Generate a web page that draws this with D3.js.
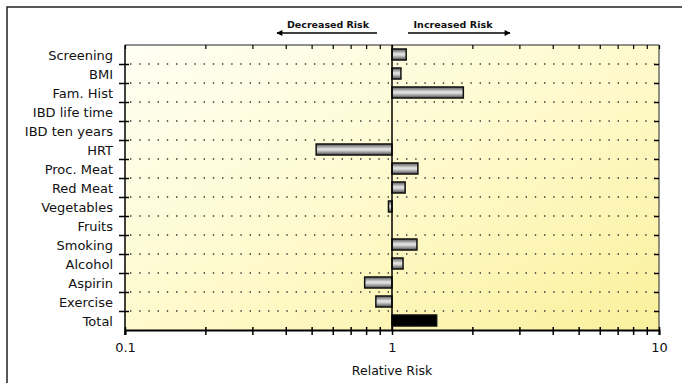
<!DOCTYPE html>
<html>
<head>
<meta charset="utf-8">
<script src="https://cdn.jsdelivr.net/npm/d3@7"></script>
<style>
  body { margin: 0; background: #fff; }
  svg text { font-family: "DejaVu Sans", Verdana, sans-serif; fill: #111; }
</style>
</head>
<body>
<div id="chart"></div>
<script>
// Risk factors, top to bottom
const categories = ["Screening", "BMI", "Fam. Hist", "IBD life time", "IBD ten years", "HRT",
    "Proc. Meat", "Red Meat", "Vegetables", "Fruits", "Smoking", "Alcohol", "Aspirin", "Exercise", "Total"];
// Relative risk per factor (null = no bar drawn)
const relativeRisk = [1.13, 1.08, 1.85, null, null, 0.52, 1.25, 1.12, 0.97, null, 1.24, 1.10, 0.79, 0.87, 1.47];
const tickValues = [0.1, 0.2, 0.3, 0.4, 0.5, 0.6, 0.7, 0.8, 0.9, 1, 2, 3, 4, 5, 6, 7, 8, 9, 10];
const tickLabels = [0.1, 1, 10];

const width = 682, height = 383;
const margin = { top: 45, right: 23, bottom: 53, left: 125 };

const svg = d3.select("#chart").append("svg")
    .attr("width", width)
    .attr("height", height);

const defs = svg.append("defs");

// Pale yellow background, lighter at top left
const bg = defs.append("linearGradient").attr("id", "bg")
    .attr("x1", 0).attr("y1", 0).attr("x2", 1).attr("y2", 1);
bg.append("stop").attr("offset", "0%").attr("stop-color", "#fffff4");
bg.append("stop").attr("offset", "50%").attr("stop-color", "#fefacd");
bg.append("stop").attr("offset", "100%").attr("stop-color", "#fbf09c");

// Cylinder-like shading for the bars
const barGrad = defs.append("linearGradient").attr("id", "bar")
    .attr("x1", 0).attr("y1", 0).attr("x2", 0).attr("y2", 1);
barGrad.append("stop").attr("offset", "0%").attr("stop-color", "#555");
barGrad.append("stop").attr("offset", "45%").attr("stop-color", "#e6e6e6");
barGrad.append("stop").attr("offset", "60%").attr("stop-color", "#cfcfcf");
barGrad.append("stop").attr("offset", "100%").attr("stop-color", "#4a4a4a");

// Outer frame (top and left only)
svg.append("path")
    .attr("d", `M7,${height} V7 H${width}`)
    .attr("fill", "none")
    .attr("stroke", "#222")
    .attr("stroke-width", 1.5);

const x = d3.scaleLog()
    .domain([0.1, 10])
    .range([margin.left, width - margin.right]);

const y = d3.scaleBand()
    .domain(categories)
    .range([margin.top, height - margin.bottom])
    .paddingInner(0.42)
    .paddingOuter(0.21);

const rowEdge = d3.scaleLinear()
    .domain([0, categories.length])
    .range([margin.top, height - margin.bottom]);
const boundaries = d3.range(1, categories.length);

const x0 = x.range()[0], x1 = x.range()[1];
const yTop = margin.top, yBottom = height - margin.bottom;

svg.append("rect")
    .attr("x", x0).attr("y", yTop)
    .attr("width", x1 - x0).attr("height", yBottom - yTop)
    .attr("fill", "url(#bg)");

// Dotted row separators
svg.append("g").selectAll("line")
    .data(boundaries)
    .join("line")
    .attr("x1", x0 + 5).attr("x2", x1 - 4)
    .attr("y1", d => rowEdge(d)).attr("y2", d => rowEdge(d))
    .attr("stroke", "#333")
    .attr("stroke-width", 1.4)
    .attr("stroke-dasharray", "1.4 7.8");

// Bars from 1 to the value
svg.append("g").selectAll("rect")
    .data(categories.map((c, i) => ({ c, v: relativeRisk[i] })).filter(d => d.v != null))
    .join("rect")
    .attr("x", d => x(Math.min(1, d.v)))
    .attr("y", d => y(d.c))
    .attr("width", d => Math.abs(x(d.v) - x(1)))
    .attr("height", y.bandwidth())
    .attr("fill", d => d.c === "Total" ? "#000" : "url(#bar)")
    .attr("stroke", "#111")
    .attr("stroke-width", 1.5);

// Reference line at RR = 1
svg.append("line")
    .attr("x1", x(1)).attr("x2", x(1))
    .attr("y1", yTop).attr("y2", yBottom)
    .attr("stroke", "#000")
    .attr("stroke-width", 1.5);

// Top and right frame lines
svg.append("path")
    .attr("d", `M${x0},${yTop} H${x1} V${yBottom}`)
    .attr("fill", "none")
    .attr("stroke", "#222")
    .attr("stroke-width", 1);

// Bottom axis
const xAxis = svg.append("g")
    .attr("transform", `translate(0,${yBottom})`)
    .call(d3.axisBottom(x)
        .tickValues(tickValues)
        .tickSize(5)
        .tickPadding(8)
        .tickFormat(d => tickLabels.includes(d) ? d3.format("")(d) : ""));
xAxis.select(".domain").attr("stroke", "#000").attr("stroke-width", 2);
xAxis.selectAll(".tick line").attr("y1", -3).attr("stroke", "#000").attr("stroke-width", 1.5);
xAxis.selectAll(".tick text").attr("font-size", 13)
    .style("font-family", "'DejaVu Sans', sans-serif").attr("fill", "#111");

// Top axis ticks, pointing inward
const xTop = svg.append("g")
    .attr("transform", `translate(0,${yTop})`)
    .call(d3.axisBottom(x).tickValues(tickValues).tickSize(4).tickFormat(""));
xTop.select(".domain").remove();
xTop.selectAll(".tick line").attr("stroke", "#000").attr("stroke-width", 1.2);

// Left axis: separator ticks crossing the axis
const yAxis = svg.append("g")
    .attr("transform", `translate(${x0},0)`)
    .call(d3.axisLeft(rowEdge).tickValues(boundaries).tickSize(5).tickFormat(""));
yAxis.select(".domain").attr("d", `M0,${yTop}V${yBottom + 5}`).attr("stroke", "#000").attr("stroke-width", 1.5);
yAxis.selectAll(".tick line").attr("x2", -6).attr("x1", 4).attr("stroke", "#000").attr("stroke-width", 1.5);

// Right axis ticks, pointing inward
const yRight = svg.append("g")
    .attr("transform", `translate(${x1},0)`)
    .call(d3.axisLeft(rowEdge).tickValues(boundaries).tickSize(5).tickFormat(""));
yRight.select(".domain").remove();
yRight.selectAll(".tick line").attr("stroke", "#000").attr("stroke-width", 1.5);

// Category labels
svg.append("g").selectAll("text")
    .data(categories)
    .join("text")
    .attr("x", 113)
    .attr("y", d => y(d) + y.bandwidth() / 2 + 5)
    .attr("text-anchor", "end")
    .attr("font-size", 13)
    .text(d => d);

// Axis title
svg.append("text")
    .attr("x", x(1))
    .attr("y", 375)
    .attr("text-anchor", "middle")
    .attr("font-size", 12.5)
    .text("Relative Risk");

// Direction annotations above the plot
defs.append("marker").attr("id", "arrow")
    .attr("viewBox", "0 0 10 10").attr("refX", 9).attr("refY", 5)
    .attr("markerWidth", 9).attr("markerHeight", 6)
    .attr("markerUnits", "userSpaceOnUse")
    .attr("orient", "auto")
    .append("path").attr("d", "M0,0 L10,5 L0,10 Z").attr("fill", "#000");

const arrowY = 33;
svg.append("line")
    .attr("x1", x(1) - 15).attr("x2", x(1) - 115)
    .attr("y1", arrowY).attr("y2", arrowY)
    .attr("stroke", "#000").attr("stroke-width", 1.5)
    .attr("marker-end", "url(#arrow)");
svg.append("line")
    .attr("x1", x(1) + 16).attr("x2", x(1) + 118)
    .attr("y1", arrowY).attr("y2", arrowY)
    .attr("stroke", "#000").attr("stroke-width", 1.5)
    .attr("marker-end", "url(#arrow)");

svg.append("text")
    .attr("x", x(1) - 64).attr("y", 28)
    .attr("text-anchor", "middle")
    .attr("font-size", 9.5)
    .attr("font-weight", "bold")
    .attr("textLength", 82)
    .text("Decreased Risk");
svg.append("text")
    .attr("x", x(1) + 61).attr("y", 28)
    .attr("text-anchor", "middle")
    .attr("font-size", 9.5)
    .attr("font-weight", "bold")
    .attr("textLength", 79)
    .text("Increased Risk");
</script>
</body>
</html>
